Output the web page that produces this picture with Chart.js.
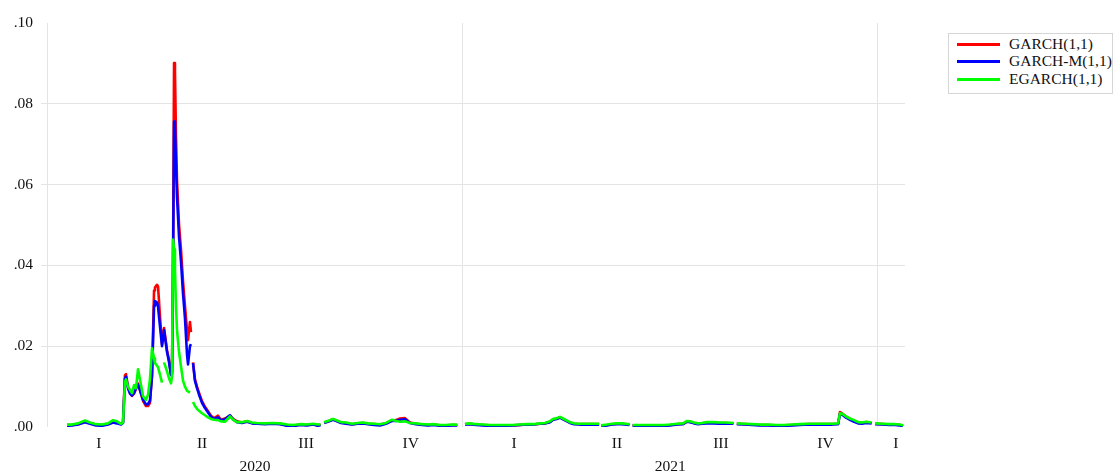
<!DOCTYPE html>
<html>
<head>
<meta charset="utf-8">
<script src="https://cdn.jsdelivr.net/npm/chart.js@4.4.1/dist/chart.umd.min.js"></script>
<style>
  html, body { margin: 0; padding: 0; background: #fff; }
  #wrap { position: relative; width: 1113px; height: 473px; overflow: hidden; }
  #chart { position: absolute; left: 0; top: 0; }
  #legend {
    position: absolute; left: 948px; top: 33px; width: 165px; height: 61px;
    box-sizing: border-box; border: 1px solid #d6d6d6; background: #fff;
    font-family: 'Liberation Serif', 'Times New Roman', serif; font-size: 15.5px; color: #111;
  }
  #legend .sw { position: absolute; left: 8px; width: 43px; height: 3px; }
  #legend .tx { position: absolute; left: 60px; height: 18px; line-height: 18px; white-space: nowrap; }
</style>
</head>
<body>
<div id="wrap">
  <canvas id="chart" width="1113" height="473"></canvas>
  <div id="legend"></div>
</div>
<script>
// Observation dates, in days counted from 1 January 2020
const days = [
  17.6, 22, 27.3, 33.4, 37.8, 43.1, 48.4, 53.7, 58.1, 61.6,
  65.1, 66.9, 68.6, 69.5, 71.3, 73, 74.8, 76.6, 78.3, 80.1,
  82.7, 84.5, 87.1, 88.9, 90.6, 92.4, 94.2, 95, 96.8, 97.7,
  99.4, 101.2, 102.1, 103, 105.6, 107.4, 109.1, 110, 110.9, 111.8,
  112.6, 113.5, 114.4, 116.2, 117.9, 119.7, 121.4, 123.2, 124.1, 125.8,
  126.7, 127.6, 128.5, 130.2, 132, 133.8, 136.4, 139, 141.7, 144.3,
  147, 150.5, 153.1, 156.6, 161, 163.7, 167.2, 171.6, 176, 180.4,
  184.8, 191.8, 198, 205, 211.2, 216.5, 222.6, 228.8, 234.1, 238.5,
  240.7, 242.3, 243.9, 248.2, 251.7, 255.2, 258.7, 263.1, 268.4, 273.7,
  278.1, 282.5, 287.8, 293, 298.3, 303.6, 307.1, 310.6, 315, 319.4,
  324.7, 330, 335.3, 340.6, 345.8, 351.1, 356.4, 361, 363.4, 367.8,
  372.2, 377.5, 383.7, 389.8, 396, 403, 410, 416.2, 422.4, 427.7,
  433.8, 438.2, 442.6, 445.3, 448.8, 451.4, 454.1, 457.6, 460.2, 463.8,
  469, 475.2, 480.5, 485.8, 486.6, 487.6, 492.8, 497.2, 501.6, 506,
  512.5, 513.9, 515.3, 521.8, 528.9, 535.9, 543, 548.2, 554.4, 559.7,
  563.2, 565.8, 569.4, 572.9, 576.4, 580.8, 586.1, 591.4, 596.6, 604,
  605.4, 607, 614.2, 620.4, 627.4, 634.5, 641.5, 648.6, 655.6, 662.6,
  669.7, 676.7, 683.8, 690.8, 696.1, 697.8, 699.6, 703.1, 706.6, 710.2,
  713.7, 717.2, 720.7, 725.6, 726.9, 728.6, 735.7, 741, 746.2, 750.6, 753.3
];

// Conditional variance, GARCH(1,1)
const garch = [
  .0005, .0005, .0007, .0014, .0010, .0006, .0005, .0008, .0013, .0011,
  .0008, .0012, .0128, .0131, .0098, .0085, .0077, .0083, .0094, .0108,
  .0082, .0065, .0052, .0052, .0060, .0130, .0338, .0345, .0352, .0348,
  .0275, .0205, .0225, .0245, .0190, .0165, .0130, .0135, .0400, .0901,
  .0880, .0720, .0610, .0500, .0440, .0360, .0300, .0240, .0215, .0260,
  .0235, null, .0160, .0118, .0100, .0084, .0064, .0050, .0039, .0028,
  .0022, .0028, .0018, .0021, .0028, .0020, .0014, .0011, .0014, .0010,
  .0009, .0008, .0009, .0008, .0004, .0003, .0006, .0005, .0007, .0004,
  .0006, null, .0011, .0015, .0019, .0015, .0011, .0009, .0007, .0009,
  .0010, .0008, .0007, .0006, .0009, .0016, .0017, .0021, .0022, .0011,
  .0008, .0006, .0005, .0006, .0004, .0004, .0005, .0005, null, .0007,
  .0008, .0006, .0005, .0004, .0004, .0004, .0004, .0005, .0006, .0006,
  .0008, .0009, .0013, .0019, .0021, .0024, .0020, .0015, .0011, .0008,
  .0007, .0007, .0007, .0007, null, .0003, .0005, .0007, .0008, .0008,
  .0006, null, .0004, .0004, .0004, .0004, .0004, .0005, .0007, .0008,
  .0014, .0013, .0010, .0008, .0009, .0011, .0011, .0010, .0010, .0009,
  null, .0008, .0007, .0006, .0005, .0005, .0004, .0004, .0005, .0006,
  .0007, .0007, .0007, .0007, .0008, .0037, .0034, .0026, .0020, .0015,
  .0011, .0010, .0012, .0010, null, .0008, .0007, .0006, .0006, .0005, .0003
];

// Conditional variance, GARCH-M(1,1)
const garchM = [
  .0003, .0004, .0006, .0012, .0008, .0004, .0003, .0006, .0011, .0009,
  .0006, .0010, .0120, .0125, .0096, .0083, .0078, .0084, .0096, .0105,
  .0084, .0068, .0056, .0057, .0065, .0125, .0300, .0312, .0308, .0298,
  .0250, .0200, .0220, .0240, .0186, .0160, .0128, .0130, .0380, .0756,
  .0745, .0650, .0570, .0470, .0410, .0330, .0270, .0180, .0155, .0200,
  .0205, null, .0158, .0114, .0096, .0080, .0060, .0047, .0036, .0025,
  .0020, .0024, .0016, .0019, .0029, .0019, .0012, .0010, .0013, .0009,
  .0008, .0007, .0008, .0007, .0003, .0002, .0005, .0004, .0006, .0003,
  .0005, null, .0010, .0014, .0018, .0014, .0010, .0008, .0006, .0008,
  .0009, .0007, .0005, .0004, .0008, .0015, .0015, .0018, .0019, .0010,
  .0007, .0005, .0004, .0005, .0003, .0003, .0004, .0004, null, .0006,
  .0007, .0005, .0004, .0003, .0003, .0003, .0004, .0005, .0006, .0006,
  .0008, .0009, .0012, .0018, .0020, .0023, .0019, .0014, .0010, .0007,
  .0006, .0006, .0006, .0006, null, .0002, .0004, .0006, .0007, .0007,
  .0005, null, .0003, .0003, .0003, .0003, .0003, .0004, .0006, .0007,
  .0013, .0012, .0009, .0007, .0008, .0009, .0009, .0008, .0009, .0008,
  null, .0007, .0006, .0005, .0004, .0004, .0003, .0003, .0004, .0005,
  .0006, .0006, .0006, .0006, .0007, .0033, .0031, .0023, .0018, .0013,
  .0009, .0008, .0010, .0009, null, .0007, .0006, .0005, .0005, .0004, .0002
];

// Conditional variance, EGARCH(1,1)
const egarch = [
  .0006, .0006, .0009, .0016, .0011, .0007, .0006, .0009, .0017, .0014,
  .0008, .0011, .0112, .0118, .0100, .0092, .0084, .0104, .0096, .0143,
  .0104, .0076, .0067, .0080, .0118, .0195, .0170, .0158, .0152, .0148,
  .0130, .0110, null, .0160, .0138, .0120, .0108, .0125, .0464, .0440,
  .0390, .0300, .0240, .0185, .0150, .0115, .0100, .0090, .0088, .0085,
  null, null, .0062, .0052, .0045, .0040, .0034, .0029, .0024, .0020,
  .0018, .0017, .0014, .0013, .0026, .0018, .0012, .0012, .0015, .0011,
  .0010, .0009, .0010, .0009, .0006, .0005, .0007, .0006, .0008, .0006,
  .0007, null, .0012, .0016, .0020, .0016, .0012, .0011, .0008, .0010,
  .0011, .0009, .0008, .0007, .0010, .0018, .0015, .0013, .0014, .0010,
  .0009, .0007, .0006, .0007, .0005, .0005, .0006, .0006, null, .0008,
  .0009, .0007, .0006, .0005, .0005, .0005, .0005, .0006, .0007, .0007,
  .0009, .0010, .0014, .0020, .0022, .0025, .0021, .0016, .0012, .0009,
  .0008, .0008, .0008, .0008, null, .0004, .0006, .0008, .0009, .0009,
  .0007, null, .0005, .0005, .0005, .0005, .0005, .0006, .0008, .0009,
  .0015, .0014, .0011, .0009, .0010, .0012, .0012, .0011, .0011, .0010,
  null, .0009, .0008, .0007, .0006, .0006, .0005, .0005, .0006, .0007,
  .0008, .0008, .0008, .0008, .0009, .0034, .0033, .0026, .0021, .0017,
  .0012, .0011, .0013, .0011, null, .0009, .0008, .0007, .0007, .0006, .0004
];

const seriesNames = ['GARCH(1,1)', 'GARCH-M(1,1)', 'EGARCH(1,1)'];
const seriesColors = ['#ff0000', '#0000ff', '#00ff00'];

// Axis ticks (days from 1 January 2020)
const yTicks = [0, 0.02, 0.04, 0.06, 0.08, 0.10];
const quarterPos = [45.5, 136.5, 228, 320, 411, 501.5, 593, 685, 747];
const quarterLabels = ['I', 'II', 'III', 'IV', 'I', 'II', 'III', 'IV', 'I'];
const yearStarts = [0, 366, 731];
const yearPos = [183, 548.5];
const yearLabels = ['2020', '2021'];

const X_MAX = 755;
const GRID = '#e4e4e4';
const NONE = 'rgba(0,0,0,0)';
const FONT = { family: "'Liberation Serif', 'Times New Roman', serif", size: 15.5 };
const TEXT = '#111';

const seriesValues = [garch, garchM, egarch];
const datasets = seriesValues.map((vals, k) => ({
  label: seriesNames[k],
  data: days.map((d, i) => ({ x: d, y: vals[i] })),
  borderColor: seriesColors[k],
  backgroundColor: seriesColors[k],
  borderWidth: 2.6,
  borderJoinStyle: 'round',
  pointRadius: 0,
  tension: 0,
  spanGaps: false,
  order: 3 - k   // EGARCH drawn last, on top
}));

new Chart(document.getElementById('chart'), {
  type: 'line',
  data: { datasets },
  options: {
    responsive: false,
    animation: false,
    layout: { padding: { left: 0, right: 208, top: 23, bottom: 0 } },
    plugins: { legend: { display: false }, tooltip: { enabled: false } },
    scales: {
      x: {
        type: 'linear', position: 'bottom', weight: 0, min: 0, max: X_MAX,
        afterBuildTicks: s => {
          s.ticks = [...yearStarts, ...quarterPos].sort((a, b) => a - b).map(v => ({ value: v }));
        },
        afterFit: s => { s.height = 22; },
        ticks: {
          autoSkip: false, maxRotation: 0, minRotation: 0, padding: 8,
          color: TEXT, font: FONT,
          callback: v => { const k = quarterPos.indexOf(v); return k >= 0 ? quarterLabels[k] : ''; }
        },
        grid: {
          drawTicks: false, lineWidth: 1,
          color: c => (c.tick && yearStarts.includes(c.tick.value)) ? GRID : NONE
        },
        border: { display: false }
      },
      yr: {
        type: 'linear', position: 'bottom', weight: 1, min: 0, max: X_MAX,
        afterBuildTicks: s => { s.ticks = yearPos.map(v => ({ value: v })); },
        afterFit: s => { s.height = 24; },
        ticks: {
          autoSkip: false, maxRotation: 0, minRotation: 0, padding: 9,
          color: TEXT, font: FONT,
          callback: v => { const k = yearPos.indexOf(v); return k >= 0 ? yearLabels[k] : ''; }
        },
        grid: { display: false, drawTicks: false },
        border: { display: false }
      },
      y: {
        type: 'linear', position: 'left', min: 0, max: 0.10,
        afterBuildTicks: s => { s.ticks = yTicks.map(v => ({ value: v })); },
        afterFit: s => { s.width = 47; },
        ticks: {
          padding: 8, color: TEXT, font: FONT,
          callback: v => v.toFixed(2).replace(/^0/, '')
        },
        grid: {
          tickLength: 6, lineWidth: 1,
          color: c => (c.tick && c.tick.value > 0.001 && c.tick.value < 0.099) ? GRID : NONE
        },
        border: { display: false }
      }
    }
  }
});

// Legend box
const legend = document.getElementById('legend');
const rowCenters = [10, 27, 45];
datasets.forEach((ds, k) => {
  const sw = document.createElement('div');
  sw.className = 'sw';
  sw.style.top = (rowCenters[k] - 1.5) + 'px';
  sw.style.background = ds.borderColor;
  const tx = document.createElement('div');
  tx.className = 'tx';
  tx.style.top = (rowCenters[k] - 9) + 'px';
  tx.textContent = ds.label;
  legend.appendChild(sw);
  legend.appendChild(tx);
});
</script>
</body>
</html>
